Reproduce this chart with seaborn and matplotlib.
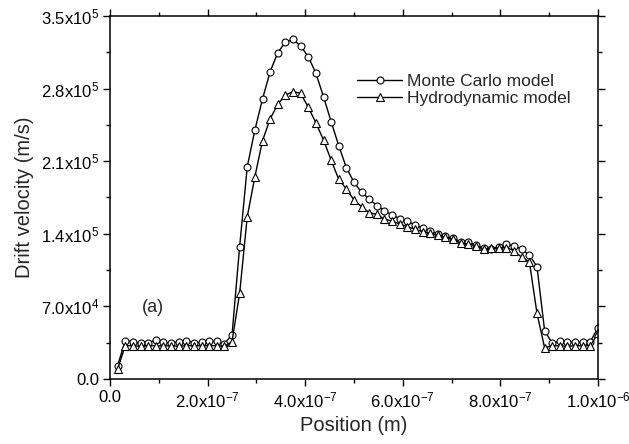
"""
Drift velocity vs position: Monte Carlo vs hydrodynamic model
"""

import matplotlib
matplotlib.use('Agg')
import matplotlib.pyplot as plt
import seaborn as sns
import numpy as np
import pandas as pd
from matplotlib.ticker import FixedLocator, MultipleLocator

# grid index k = 1..64, position = k/64 um
grid_index = list(range(1, 65))

mc_velocity = [
    13000, 37000, 36000, 34400, 35000, 37600, 35400, 34400, 36000, 37000,
    35000, 35400, 36200, 36200, 34200, 42400, 127600, 204700, 240000, 270000,
    296300, 314600, 324700, 327500, 321100, 310800, 294800, 272200, 248100, 224900,
    203700, 189600, 180000, 173600, 167100, 162300, 158100, 154600, 152000, 148500,
    145600, 142700, 139800, 137600, 135700, 132400, 131800, 129200, 126000, 125300,
    127600, 129900, 128600, 125000, 119600, 108300, 46600, 34400, 36500, 35400,
    36000, 35400, 36000, 49500,
]

hd_velocity = [
    9600, 32100, 32100, 31500, 32100, 32100, 31800, 32100, 31500, 32100,
    32100, 32000, 32100, 32100, 31500, 36000, 82600, 156500, 195000, 229800,
    250700, 264900, 273800, 277000, 275500, 262000, 247100, 230400, 211000, 192500,
    183200, 172600, 166100, 160300, 158800, 154000, 152300, 149400, 146900, 144300,
    142000, 140400, 138600, 136600, 134700, 131400, 130200, 128600, 125300, 126000,
    126600, 126600, 123700, 117300, 113100, 63300, 30000, 32100, 32000, 31500,
    32100, 32000, 32100, 44000,
]

x_ticks = [0.0, 2e-7, 4e-7, 6e-7, 8e-7, 1e-6]
x_tick_labels = ['0.0', r'2.0x10$^{-7}$', r'4.0x10$^{-7}$', r'6.0x10$^{-7}$',
                 r'8.0x10$^{-7}$', r'1.0x10$^{-6}$']
y_ticks = [0.0, 7e4, 1.4e5, 2.1e5, 2.8e5, 3.5e5]
y_tick_labels = ['0.0', r'7.0x10$^{4}$', r'1.4x10$^{5}$', r'2.1x10$^{5}$',
                 r'2.8x10$^{5}$', r'3.5x10$^{5}$']

position = np.array(grid_index) / 64 * 1e-6
df = pd.DataFrame({'position': position,
                   'Monte Carlo model': mc_velocity,
                   'Hydrodynamic model': hd_velocity})

sns.set_style('ticks')
plt.rcParams['font.family'] = ['Liberation Sans', 'DejaVu Sans']
plt.rcParams['mathtext.fontset'] = 'custom'
plt.rcParams['mathtext.rm'] = 'Liberation Sans'
plt.rcParams['mathtext.it'] = 'Liberation Sans:italic'
plt.rcParams['mathtext.bf'] = 'Liberation Sans:bold'

fig = plt.figure(figsize=(6.29, 4.44), dpi=100)
ax = fig.add_axes([0.1749, 0.1464, 0.7758, 0.8176])

sns.lineplot(data=df, x='position', y='Monte Carlo model', ax=ax,
             color='black', linewidth=1.0, marker='o', markersize=5,
             markerfacecolor='white', markeredgecolor='black',
             markeredgewidth=0.8, label='Monte Carlo model', errorbar=None)
sns.lineplot(data=df, x='position', y='Hydrodynamic model', ax=ax,
             color='black', linewidth=1.0, marker='^', markersize=6,
             markerfacecolor='white', markeredgecolor='black',
             markeredgewidth=0.8, label='Hydrodynamic model', errorbar=None)

ax.set_xlim(0, 1e-6)
ax.set_ylim(0, 3.5e5)
ax.xaxis.set_major_locator(FixedLocator(x_ticks))
ax.set_xticklabels(x_tick_labels)
ax.yaxis.set_major_locator(FixedLocator(y_ticks))
ax.set_yticklabels(y_tick_labels)
ax.xaxis.set_minor_locator(MultipleLocator(1e-7))
ax.yaxis.set_minor_locator(MultipleLocator(3.5e4))

ax.tick_params(which='both', direction='out', top=True, right=True,
               labeltop=False, labelright=False, labelsize=12, width=1.0,
               color='black', labelcolor='black')
ax.tick_params(which='major', length=5, pad=3)
ax.tick_params(which='minor', length=3)
for sp in ax.spines.values():
    sp.set_visible(True)
    sp.set_linewidth(1.1)
    sp.set_color('black')

ax.set_xlabel('Position (m)', fontsize=14.5, labelpad=4)
ax.set_ylabel('Drift velocity (m/s)', fontsize=14.5, labelpad=5)

ax.text(8.8e-8, 6.85e4, '(a)', fontsize=13, ha='center', va='center')

leg = ax.legend(loc='upper left', bbox_to_anchor=(0.492, 0.86), frameon=False,
                fontsize=12.5, handlelength=2.6, handletextpad=0.25,
                labelspacing=0.12, borderaxespad=0)

fig.savefig('out.png', dpi=100)
